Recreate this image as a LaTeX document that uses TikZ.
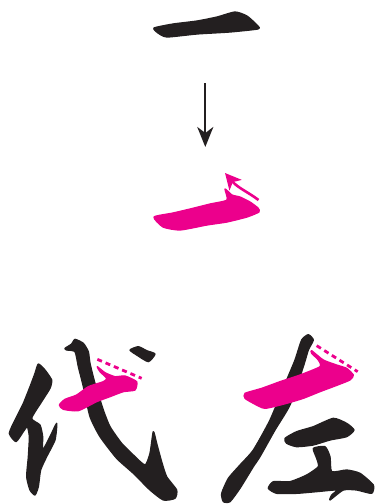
\documentclass[tikz,border=0pt]{standalone}
\usepackage{tikz}
\usetikzlibrary{arrows.meta}
\definecolor{inkblack}{RGB}{35,31,32}
\definecolor{inkpink}{RGB}{236,0,140}
\tikzset{>=Stealth,rough/.style={line width=1.3pt,line join=round},
stroke/.style={rough,fill=inkblack,draw=inkblack},hilite/.style={rough,fill=inkpink,draw=inkpink},
guide/.style={draw=inkpink,line width=2.8pt,dash pattern=on 5pt off 4pt},
flow/.style={draw=inkblack,line width=2.3pt,-{Stealth[length=20pt,width=16pt,inset=6pt]}},
lift/.style={draw=inkpink,line width=2.6pt,-{Stealth[length=16pt,width=16pt,inset=4pt]}}}
\newcommand{\brush}[2]{\path[#1] plot[smooth cycle,tension=.35] coordinates {#2};}
\begin{document}
\begin{tikzpicture}[x=1pt,y=-1pt]
\useasboundingbox (0,0) rectangle (376,504);
% top pair
\brush{stroke}{(154,28)(173,24)(197,21)(217,17)(235,12)(247,16)(258,26)(258,29)(230,32)(197,34)(167,37)(158,33)}
\coordinate (from) at (205.3,83);\coordinate (to) at (205.3,147);
\draw[flow] (from)--(to);
\brush{hilite}{(154,217)(173,213)(190,209)(210,204)(227,200)(225,189)(232,195)(240,197)(250,202)(258,208)(259,212)(247,217)(227,222)(207,225)(180,230)(163,227)}
\draw[lift] (258.5,200) .. controls (248,192) and (238,188) .. (225,173);
% left character
\begin{scope}[shift={(0,330)},scale=1/3]
\brush{stroke}{(115,102)(135,120)(155,150)(150,175)(125,215)(95,265)(120,285)(128,320)(128,360)(150,320)(170,280)(165,330)(140,380)(122,420)(115,470)(105,495)(90,480)(80,440)(85,380)(88,320)(82,290)(70,305)(48,335)(28,310)(45,270)(70,220)(90,170)(105,130)}
\brush{stroke}{(195,55)(215,42)(225,28)(250,40)(265,65)(270,100)(285,160)(310,240)(330,290)(365,340)(400,375)(435,405)(450,370)(460,305)(470,340)(485,395)(500,440)(530,480)(525,505)(490,510)(450,480)(400,430)(350,385)(300,320)(270,260)(250,170)(235,110)(225,65)(200,60)}
\brush{stroke}{(390,60)(415,50)(440,62)(465,72)(445,95)(410,75)}
\brush{hilite}{(178,225)(195,208)(230,195)(265,170)(310,155)(320,145)(300,125)(292,110)(315,128)(345,140)(375,138)(410,155)(405,180)(370,185)(330,200)(290,215)(235,242)(190,238)}
\draw[guide] (292,88)--(425,145);
\end{scope}
% right character
\begin{scope}[shift={(190,330)},scale=1/3]
\brush{stroke}{(335,30)(355,14)(370,30)(355,60)(340,110)(300,225)(255,300)(210,380)(190,410)(150,475)(120,515)(100,515)(95,490)(115,445)(150,405)(190,360)(240,270)(290,150)(315,90)}
\brush{stroke}{(285,325)(320,305)(370,290)(430,265)(470,280)(492,300)(470,320)(420,330)(370,345)(320,350)(290,340)}
\brush{stroke}{(370,355)(405,350)(420,380)(425,425)(470,420)(510,430)(550,465)(545,490)(500,480)(460,480)(420,510)(425,495)(440,480)(380,485)(320,490)(260,490)(235,475)(250,455)(300,455)(350,435)(385,410)(380,385)}
\brush{hilite}{(165,190)(215,175)(270,155)(330,135)(390,110)(385,90)(365,70)(365,62)(400,90)(440,105)(470,115)(490,135)(480,150)(430,170)(390,185)(340,205)(290,220)(225,235)(190,220)(165,205)}
\draw[guide] (380,47)--(503,125);
\end{scope}
\end{tikzpicture}
\end{document}
